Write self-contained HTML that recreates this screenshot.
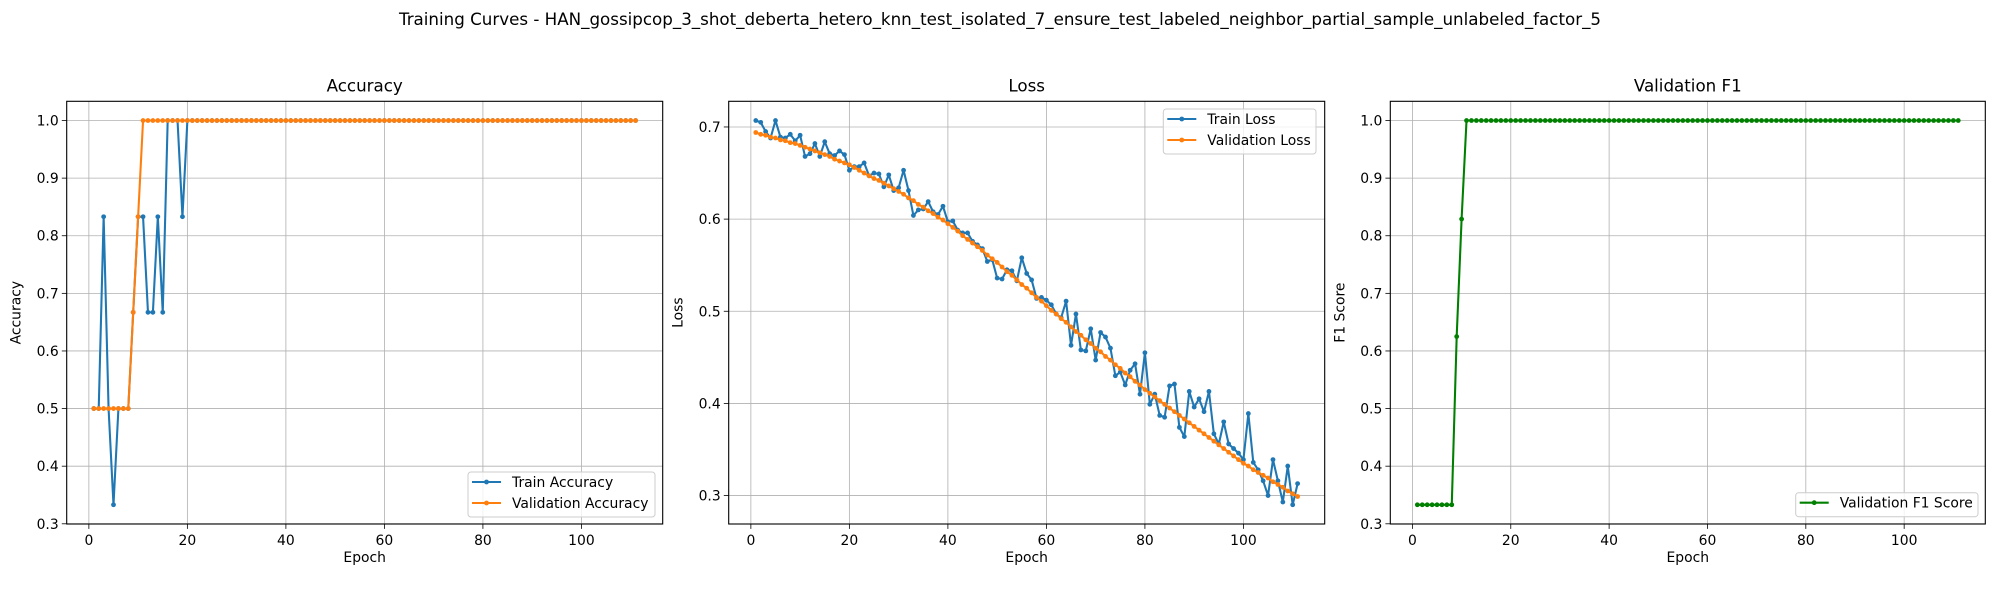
<!DOCTYPE html>
<html><head><meta charset="utf-8"><style>
html,body{margin:0;padding:0;background:#fff;}
svg{display:block;font-family:"DejaVu Sans","Liberation Sans",sans-serif;}
</style></head><body>
<svg id="fig" width="2000" height="600" viewBox="0 0 2000 600" xmlns="http://www.w3.org/2000/svg">
<rect width="2000" height="600" fill="#fff"/>
<text x="1000" y="25" text-anchor="middle" font-size="16.7">Training Curves - HAN_gossipcop_3_shot_deberta_hetero_knn_test_isolated_7_ensure_test_labeled_neighbor_partial_sample_unlabeled_factor_5</text>
</svg>
<script>
const epochs = Array.from({length:111},(_,i)=>i+1);
const trainAcc = [0.5,0.5,0.833,0.5,0.333,0.5,0.5,0.5,0.667,0.833,0.833,0.667,0.667,0.833,0.667,1,1,1,0.833,1].concat(Array(91).fill(1));
const valAcc = [0.5,0.5,0.5,0.5,0.5,0.5,0.5,0.5,0.667,0.833].concat(Array(101).fill(1));
const trainLoss = [0.707,0.705,0.695,0.688,0.707,0.689,0.688,0.692,0.685,0.691,
0.668,0.671,0.682,0.668,0.684,0.671,0.669,0.674,0.670,0.653,
0.657,0.657,0.661,0.647,0.650,0.649,0.635,0.648,0.631,0.634,
0.653,0.631,0.604,0.610,0.611,0.619,0.608,0.605,0.614,0.597,
0.598,0.588,0.585,0.585,0.576,0.572,0.568,0.554,0.556,0.536,
0.535,0.545,0.544,0.533,0.558,0.541,0.534,0.514,0.515,0.512,
0.507,0.497,0.493,0.511,0.463,0.497,0.458,0.457,0.481,0.447,
0.477,0.472,0.460,0.430,0.434,0.420,0.436,0.443,0.410,0.455,
0.399,0.410,0.387,0.385,0.419,0.421,0.374,0.364,0.413,0.396,
0.405,0.391,0.413,0.367,0.356,0.380,0.356,0.351,0.346,0.339,
0.389,0.336,0.328,0.316,0.300,0.339,0.316,0.293,0.332,0.290,0.313];
const valLoss = [0.694,0.692,0.691,0.689,0.688,0.686,0.685,0.683,0.682,0.680,
0.678,0.676,0.674,0.672,0.670,0.668,0.665,0.663,0.661,0.659,
0.656,0.653,0.650,0.647,0.644,0.642,0.639,0.636,0.633,0.630,
0.627,0.623,0.620,0.616,0.613,0.609,0.606,0.602,0.599,0.595,
0.591,0.587,0.582,0.578,0.574,0.570,0.566,0.561,0.557,0.553,
0.548,0.543,0.539,0.534,0.529,0.525,0.520,0.515,0.511,0.506,
0.501,0.497,0.492,0.488,0.483,0.478,0.474,0.469,0.465,0.460,
0.456,0.451,0.447,0.442,0.438,0.433,0.429,0.424,0.420,0.415,
0.411,0.407,0.403,0.399,0.395,0.391,0.387,0.383,0.379,0.375,
0.371,0.367,0.363,0.359,0.355,0.351,0.347,0.343,0.339,0.335,
0.332,0.328,0.325,0.322,0.319,0.315,0.312,0.309,0.305,0.302,0.299];
const valF1 = [0.333,0.333,0.333,0.333,0.333,0.333,0.333,0.333,0.625,0.829].concat(Array(101).fill(1));
const xTicks = [0,20,40,60,80,100];
const accTicks = [0.3,0.4,0.5,0.6,0.7,0.8,0.9,1.0];
const lossTicks = [0.3,0.4,0.5,0.6,0.7];

const NS="http://www.w3.org/2000/svg";
const svg=document.getElementById('fig');
function el(tag,attrs,parent){const e=document.createElementNS(NS,tag);for(const k in attrs)e.setAttribute(k,attrs[k]);(parent||svg).appendChild(e);return e;}
function ext(arrs){let mn=Infinity,mx=-Infinity;arrs.forEach(a=>a.forEach(v=>{if(v<mn)mn=v;if(v>mx)mx=v;}));const p=(mx-mn)*0.05;return [mn-p,mx+p];}

function panel(L,R,title,ylabel,series,yticks,legend){
  const T=101.3,B=524;
  const g=el('g',{});
  
  
  const [x0,x1]=ext([epochs]);
  const [y0,y1]=ext(series.map(s=>s.data));
  const sx=v=>L+(v-x0)/(x1-x0)*(R-L);
  const sy=v=>B-(v-y0)/(y1-y0)*(B-T);
  xTicks.forEach(t=>{const x=sx(t);
    const gl=el('line',{x1:x,x2:x,y1:T,y2:B,stroke:'#b0b0b0','stroke-width':0.8},g);
    
    
    el('line',{x1:x,x2:x,y1:B,y2:B+4.9,stroke:'#000','stroke-width':0.8},g);
    const tl=el('text',{x:x,y:B+21,'text-anchor':'middle','font-size':13.9},g);tl.textContent=t;
    
    
  });
  yticks.forEach(t=>{const y=sy(t);
    const gl=el('line',{x1:L,x2:R,y1:y,y2:y,stroke:'#b0b0b0','stroke-width':0.8},g);
    
    
    el('line',{x1:L-4.9,x2:L,y1:y,y2:y,stroke:'#000','stroke-width':0.8},g);
    const tl=el('text',{x:L-8,y:y+5,'text-anchor':'end','font-size':13.9},g);tl.textContent=t.toFixed(1);
    
    
  });
  series.forEach(s=>{
    const sg=el('g',{},g);
    
    
    const pts=s.data.map((v,i)=>sx(epochs[i]).toFixed(2)+','+sy(v).toFixed(2)).join(' ');
    el('polyline',{points:pts,fill:'none',stroke:s.color,'stroke-width':2.08,'stroke-linejoin':'round'},sg);
    s.data.forEach((v,i)=>{const c=el('circle',{cx:sx(epochs[i]),cy:sy(v),r:2.4,fill:s.color},sg);
      
      });
  });
  const fr=el('rect',{x:L,y:T,width:R-L,height:B-T,fill:'none',stroke:'#000','stroke-width':1.1},g);
  
  
  const tt=el('text',{x:(L+R)/2,y:T-10,'text-anchor':'middle','font-size':16.7},g);tt.textContent=title;
  
  
  const xl=el('text',{x:(L+R)/2,y:562,'text-anchor':'middle','font-size':13.9},g);xl.textContent='Epoch';
  
  
  const yl=el('text',{x:0,y:0,'text-anchor':'middle','font-size':13.9,transform:`translate(${L-46},${(T+B)/2}) rotate(-90)`},g);yl.textContent=ylabel;
  
  
  const lg=el('g',{},g);
  
  
  el('rect',{x:legend.x,y:legend.y,width:legend.w,height:series.length*21+3,rx:3,fill:'#fff','fill-opacity':0.8,stroke:'#cccccc','stroke-width':1},lg);
  series.forEach((s,i)=>{const cy=legend.y+10+i*21;
    const le=el('g',{},lg);
    
    
    el('line',{x1:legend.x+4,x2:legend.x+33,y1:cy,y2:cy,stroke:s.color,'stroke-width':2.08},le);
    el('circle',{cx:legend.x+18.5,cy:cy,r:2.4,fill:s.color},le);
    const t=el('text',{x:legend.x+44,y:cy+5,'font-size':13.9},le);t.textContent=s.label;
  });
}
panel(66.7,662.7,'Accuracy','Accuracy',[
  {name:'train-accuracy-line',label:'Train Accuracy',color:'#1f77b4',data:trainAcc},
  {name:'validation-accuracy-line',label:'Validation Accuracy',color:'#ff7f0e',data:valAcc}],accTicks,{x:468,y:472,w:187});
panel(728.7,1324.7,'Loss','Loss',[
  {name:'train-loss-line',label:'Train Loss',color:'#1f77b4',data:trainLoss},
  {name:'validation-loss-line',label:'Validation Loss',color:'#ff7f0e',data:valLoss}],lossTicks,{x:1163.3,y:109,w:152.7});
panel(1390.3,1985.3,'Validation F1','F1 Score',[
  {name:'validation-f1-line',label:'Validation F1 Score',color:'#008000',data:valF1}],accTicks,{x:1795.7,y:492.7,w:182.3});
</script>
</body></html>
